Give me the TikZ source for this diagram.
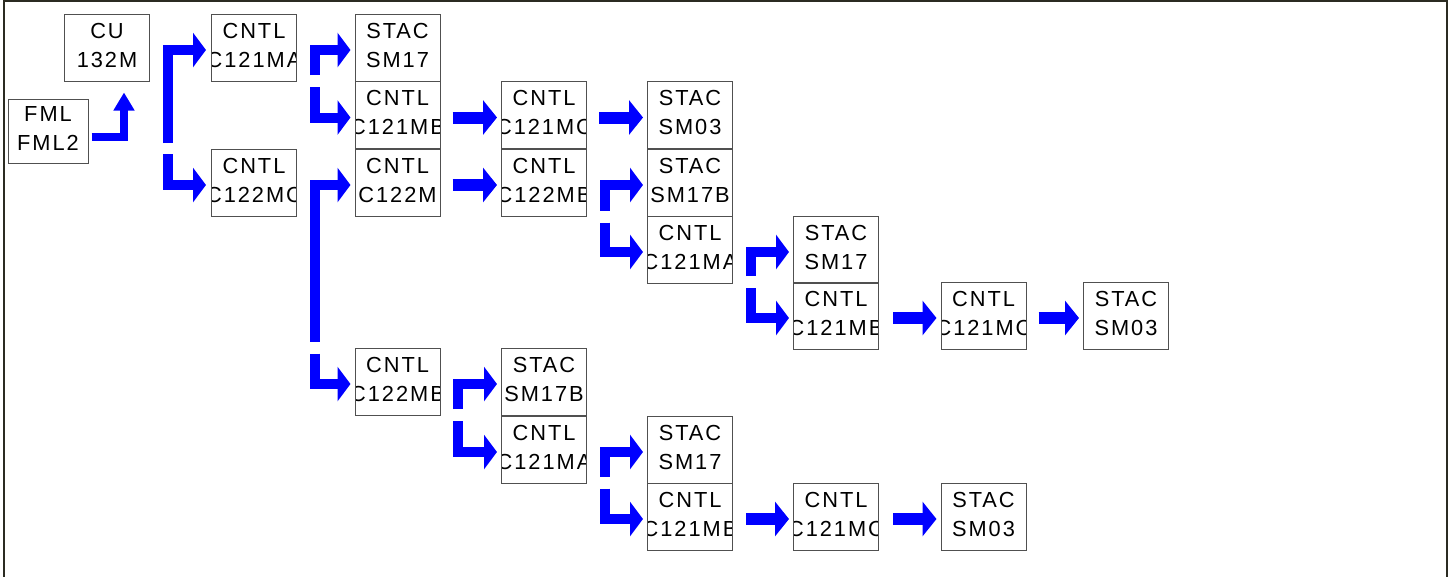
\documentclass[tikz,border=0pt]{standalone}
\usepackage{fontspec}
\setmainfont{Liberation Sans}
\newfontfamily\boxfont[LetterSpace=9]{Liberation Sans}
\usetikzlibrary{arrows.meta}
\definecolor{flowblue}{HTML}{0000FF}
\definecolor{boxline}{HTML}{505050}
\definecolor{frameline}{HTML}{2B2B22}
\tikzset{txt/.style={font=\boxfont\fontsize{21.8}{24}\selectfont, inner sep=0pt}, blk/.style 2 args={draw=boxline, line width=1pt, minimum width=85pt, minimum height=67pt, inner sep=0pt, path picture={\node[txt, anchor=base] at ([yshift=9.5pt]path picture bounding box.center) {#1}; \node[txt, anchor=base] at ([yshift=-19.8pt]path picture bounding box.center) {#2};}}, flow/.style={-{Triangle[length=14pt,width=34pt]}, line width=12pt, color=flowblue}, fork/.style={-{Triangle[length=13pt,width=34pt]}, line width=10pt, color=flowblue}, feed/.style={-{Triangle[length=18pt,width=20pt]}, line width=8pt, color=flowblue}}
\begin{document}
\begin{tikzpicture}[x=1pt,y=-1pt]
\useasboundingbox (0,0) rectangle (1449,576);
\draw[frameline, line width=1.6pt] (3.8,580) -- (3.8,0.8) -- (1447.2,0.8) -- (1447.2,580);
% boxes
\node[blk={FML}{FML2}, minimum width=80pt, minimum height=64pt] (fml) at (48,131) {};
\node[blk={CU}{132M}] (cu) at (107,47.5) {};
\node[blk={CNTL}{C121MA}] (a1) at (254,47.5) {};
\node[blk={CNTL}{C122MC}] (a2) at (254,182.5) {};
\node[blk={STAC}{SM17}] (b1) at (397.5,47.5) {};
\node[blk={CNTL}{C121MB}] (b2) at (397.5,115) {};
\node[blk={CNTL}{C122M}] (b3) at (397.5,182.5) {};
\node[blk={CNTL}{C122MB}] (b4) at (397.5,381.5) {};
\node[blk={CNTL}{C121MC}] (c1) at (544,115) {};
\node[blk={CNTL}{C122MB}] (c2) at (544,182.5) {};
\node[blk={STAC}{SM17B}] (c3) at (544,381.5) {};
\node[blk={CNTL}{C121MA}] (c4) at (544,449.5) {};
\node[blk={STAC}{SM03}] (d1) at (690,115) {};
\node[blk={STAC}{SM17B}] (d2) at (690,182.5) {};
\node[blk={CNTL}{C121MA}] (d3) at (690,249.5) {};
\node[blk={STAC}{SM17}] (d4) at (690,449.5) {};
\node[blk={CNTL}{C121MB}] (d5) at (690,516.5) {};
\node[blk={STAC}{SM17}] (e1) at (836,249.5) {};
\node[blk={CNTL}{C121MB}] (e2) at (836,315.5) {};
\node[blk={CNTL}{C121MC}] (e3) at (836,516.5) {};
\node[blk={CNTL}{C121MC}] (f1) at (983.5,315.5) {};
\node[blk={STAC}{SM03}] (f2) at (983.5,516.5) {};
\node[blk={STAC}{SM03}] (g1) at (1126,315.5) {};
% split points of the forks
\coordinate (S0) at (168,148.5); \coordinate (S1) at (315,81); \coordinate (S2) at (315,347.5);
\coordinate (S3) at (458,415); \coordinate (S4) at (604.5,216.5); \coordinate (S5) at (604.5,482.5); \coordinate (S6) at (751,282);
% arrows
\draw[feed] ([shift={(3,5.5)}]fml.east) -| ([shift={(17,11)}]cu.south);
\draw[fork] ([shift={(0,-5.5)}]S0) |- ([shift={(-5,2.5)}]a1.west); \draw[fork] ([shift={(0,5.5)}]S0) |- ([shift={(-5,2.5)}]a2.west);
\draw[fork] ([shift={(0,-6)}]S1) |- ([shift={(-4,2.5)}]b1.west); \draw[fork] ([shift={(0,6)}]S1) |- ([shift={(-4,2.5)}]b2.west);
\draw[fork] ([shift={(0,-6)}]S2) |- ([shift={(-4,2.5)}]b3.west); \draw[fork] ([shift={(0,6)}]S2) |- ([shift={(-4,2.5)}]b4.west);
\draw[fork] ([shift={(0,-6)}]S3) |- ([shift={(-4,2.5)}]c3.west); \draw[fork] ([shift={(0,6)}]S3) |- ([shift={(-4,2.5)}]c4.west);
\draw[fork] ([shift={(0,-6)}]S4) |- ([shift={(-4,2.5)}]d2.west); \draw[fork] ([shift={(0,6)}]S4) |- ([shift={(-4,2.5)}]d3.west);
\draw[fork] ([shift={(0,-6)}]S5) |- ([shift={(-4,2.5)}]d4.west); \draw[fork] ([shift={(0,6)}]S5) |- ([shift={(-4,2.5)}]d5.west);
\draw[fork] ([shift={(0,-6)}]S6) |- ([shift={(-4,2.5)}]e1.west); \draw[fork] ([shift={(0,6)}]S6) |- ([shift={(-4,2.5)}]e2.west);
\draw[flow] ([shift={(12,2.5)}]b2.east) -- ([shift={(-4,2.5)}]c1.west);
\draw[flow] ([shift={(12,2.5)}]c1.east) -- ([shift={(-4,2.5)}]d1.west);
\draw[flow] ([shift={(12,2.5)}]b3.east) -- ([shift={(-4,2.5)}]c2.west);
\draw[flow] ([shift={(14,2.5)}]e2.east) -- ([shift={(-4,2.5)}]f1.west);
\draw[flow] ([shift={(12,2.5)}]f1.east) -- ([shift={(-4,2.5)}]g1.west);
\draw[flow] ([shift={(13,2.5)}]d5.east) -- ([shift={(-4,2.5)}]e3.west);
\draw[flow] ([shift={(14,2.5)}]e3.east) -- ([shift={(-4,2.5)}]f2.west);
\end{tikzpicture}
\end{document}
